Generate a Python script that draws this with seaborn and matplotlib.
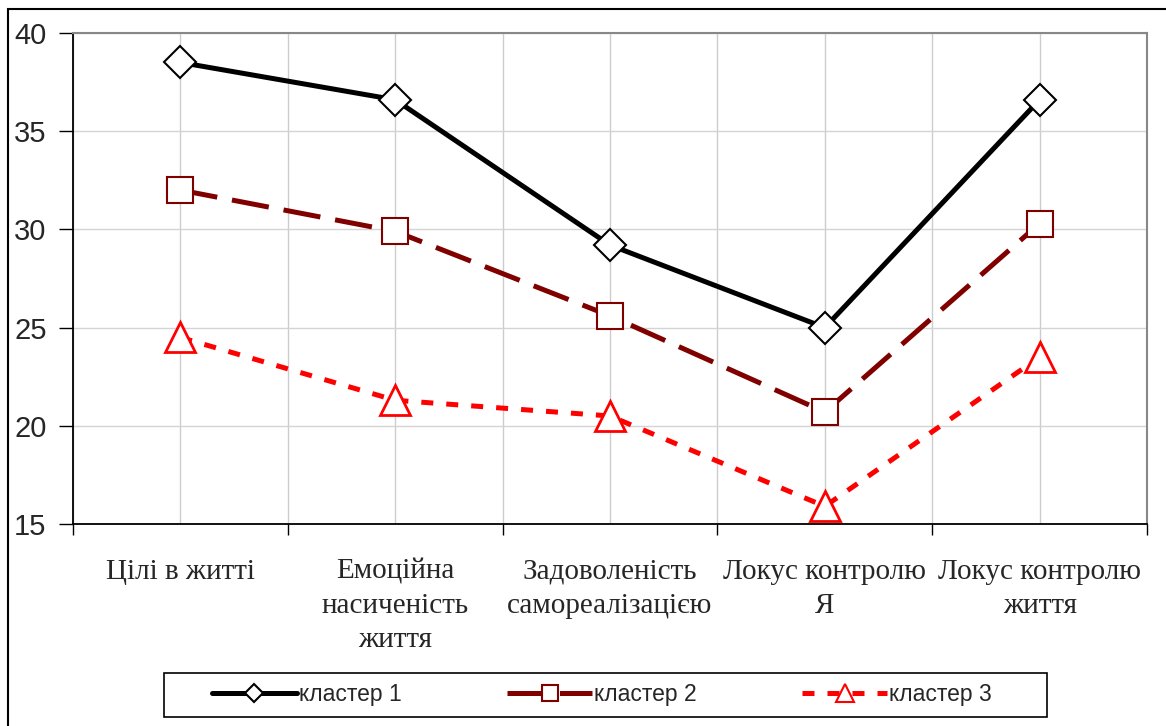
import numpy as np
import pandas as pd
import matplotlib
matplotlib.use("Agg")
import matplotlib.pyplot as plt
from matplotlib.lines import Line2D
from matplotlib.patches import Rectangle
import seaborn as sns

# data
categories = ["Цілі в житті", "Емоційна\nнасиченість\nжиття", "Задоволеність\nсамореалізацією",
              "Локус контролю\nЯ", "Локус контролю\nжиття"]
cluster1 = [38.5, 36.6, 29.2, 25.0, 36.6]
cluster2 = [32.0, 29.9, 25.6, 20.7, 30.3]
cluster3 = [24.5, 21.3, 20.5, 15.9, 23.5]
series_names = ["кластер 1", "кластер 2", "кластер 3"]

sns.set_style("white")
plt.rcParams['font.family'] = ['Liberation Sans', 'DejaVu Sans']

fig = plt.figure(figsize=(11.66, 7.26), dpi=100)
ax = fig.add_axes([73/1166, 1-524/726, (1147-73)/1166, (524-33)/726])

pos = np.arange(len(categories))
styles = [
    dict(color="black", linestyle="-", marker="D", ms=16, mfc="white", mec="black", mew=1.5),
    dict(color="#800000", linestyle=(0, (7.5, 3)), marker="s", ms=19, mfc="white", mec="#800000", mew=1.5),
    dict(color="#ff0000", linestyle=(0, (2.4, 2.6)), marker="^", ms=22, mfc="white", mec="#ff0000", mew=2),
]
for vals, name, st in zip([cluster1, cluster2, cluster3], series_names, styles):
    df = pd.DataFrame({"x": pos, "y": vals})
    sns.lineplot(data=df, x="x", y="y", ax=ax, lw=3.6, sort=False, legend=False,
                 color=st["color"], linestyle=st["linestyle"], marker=st["marker"],
                 markersize=st["ms"], markerfacecolor=st["mfc"],
                 markeredgecolor=st["mec"], markeredgewidth=st["mew"], zorder=3)

ax.set_xlim(-0.5, len(categories) - 0.5)
ax.set_ylim(15, 40)
ax.set_yticks(np.arange(15, 41, 5))
ax.set_xticks(pos)
ax.set_xticks(np.arange(-0.5, len(categories), 1), minor=True)
ax.set_xticklabels(categories, fontsize=21, family=['Liberation Serif', 'DejaVu Serif'],
                   linespacing=1.4, ha="center", va="top")
ax.tick_params(axis="x", which="major", bottom=True, length=0, pad=25)
ax.tick_params(axis="x", which="minor", bottom=True, length=8, width=1, color="black", direction="out")
ax.tick_params(axis="y", left=True, length=10, width=1, color="black", direction="out",
               labelsize=21, pad=9)
ax.set_xlabel("")
ax.set_ylabel("")

ax.grid(True, axis="y", color="#d4d4d4", lw=1)
ax.grid(True, axis="x", which="both", color="#cccccc", lw=1)
ax.set_axisbelow(True)

for side in ["left", "bottom"]:
    ax.spines[side].set_color("black")
    ax.spines[side].set_linewidth(1.3)
for side in ["top", "right"]:
    ax.spines[side].set_visible(True)
    ax.spines[side].set_color("#888888")
    ax.spines[side].set_linewidth(1.5)

handles = []
for st in styles:
    handles.append(Line2D([], [], color=st["color"], linestyle=st["linestyle"], lw=3.6,
                          marker=st["marker"], markersize=st["ms"] * 0.6,
                          markerfacecolor=st["mfc"], markeredgecolor=st["mec"],
                          markeredgewidth=1.5))
leg = fig.legend(handles, series_names, loc="center left", bbox_to_anchor=(212/1166, 1-695/726),
                 ncol=3, fontsize=16.5, frameon=False, borderpad=0, borderaxespad=0,
                 handlelength=3.7, columnspacing=4.6, handletextpad=0.1, numpoints=1)

# legend frame and outer chart border
fig.patches.append(Rectangle((164/1166, 1-717/726), (1047-164)/1166, 44/726,
                             transform=fig.transFigure, fill=False, edgecolor="black", lw=1.2))
fig.patches.append(Rectangle((8/1166, -0.02), 1.05, 1 - 9/726 + 0.02, transform=fig.transFigure,
                             fill=False, edgecolor="black", lw=1.5))

fig.savefig("out.png", dpi=100)
